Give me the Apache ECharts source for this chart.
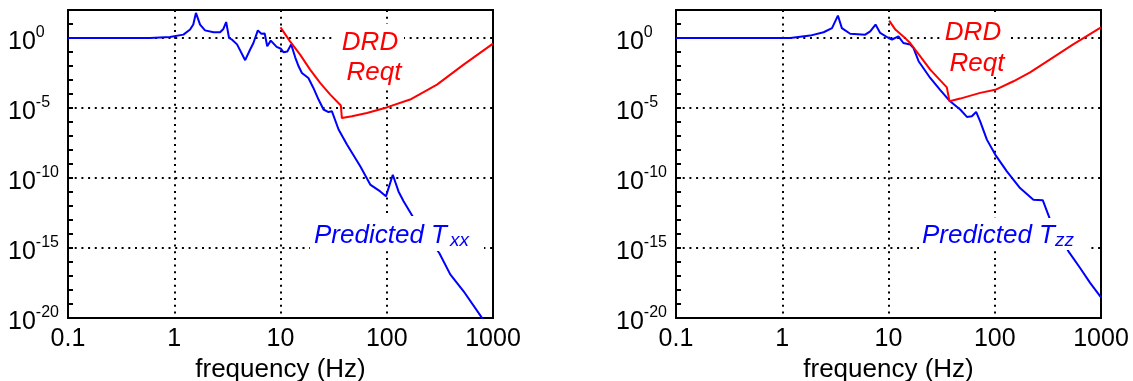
<!DOCTYPE html>
<html>
<head>
<meta charset="utf-8">
<title>Predicted transmissibility vs DRD requirement</title>
<script src="https://cdn.jsdelivr.net/npm/echarts@6/dist/echarts.min.js"></script>
<style>
  html, body { margin: 0; padding: 0; background: #fff; }
  #chart { width: 1133px; height: 381px; }
</style>
</head>
<body>
<div id="chart"></div>
<script>
// x tick labels, one per decade from 0.1 Hz to 1000 Hz
const freqTickLabels = ['0.1', '1', '10', '100', '1000'];
// decades of the magnitude axis that get a label (and a dotted grid line)
const magLabelExps = [0, -5, -10, -15, -20];

// left panel: predicted T_xx  [frequency Hz, magnitude]
const txxData = [
  [0.1, 1], [0.59, 1], [0.91, 1.17], [1.22, 1.74], [1.41, 4.0], [1.51, 9.1], [1.6, 62],
  [1.75, 9.0], [1.95, 3.5], [2.34, 2.6], [2.7, 2.6], [2.9, 4.4], [3.08, 13.8], [3.28, 1.0],
  [3.5, 0.76], [3.9, 0.35], [4.65, 0.026], [5.18, 0.15], [5.56, 0.44], [6.12, 3.5],
  [6.6, 2.0], [7.1, 2.1], [7.5, 0.26], [8.1, 0.65], [9.2, 0.23], [10.1, 0.17], [10.7, 0.095],
  [11.6, 0.11], [12.6, 0.35], [13.75, 0.042], [14.8, 0.0095], [15.9, 0.0032], [18.3, 1.4e-3],
  [20.4, 2.7e-4], [22.8, 4.0e-5], [25.4, 7.8e-6], [28.3, 5.1e-6], [30.5, 5.8e-6],
  [35.2, 2.9e-7], [42.2, 2.5e-8], [56.3, 6.9e-10], [69.9, 3.4e-11], [86.8, 1.1e-11],
  [98.3, 4.9e-12], [114, 1.7e-10], [129, 1.1e-11], [144, 2.2e-12], [179, 1.4e-13],
  [312, 4.4e-16], [396, 1.3e-17], [529, 8.1e-19], [776, 1.2e-20], [820, 5e-21]
];
// left panel: DRD requirement
const drdXData = [
  [10.0, 5.8], [12.3, 0.58], [15.3, 0.065], [19.0, 5.5e-3], [23.6, 6.2e-4], [29.4, 9.1e-5],
  [37.0, 1.5e-5], [37.8, 1.9e-6], [47.0, 2.6e-6], [65.1, 4.4e-6], [100, 1.1e-5],
  [166, 4.0e-5], [297, 4.7e-4], [529, 0.0126], [1000, 0.4]
];
// right panel: predicted T_zz
const tzzData = [
  [0.1, 1], [1.19, 1], [1.83, 1.48], [2.45, 2.57], [2.94, 5.1], [3.34, 40], [3.64, 5.1],
  [4.36, 2.0], [6.04, 1.74], [6.73, 3.0], [7.55, 9.1], [8.35, 2.3], [10.0, 1.0], [10.8, 0.78],
  [12.4, 1.3], [13.8, 0.44], [16.0, 0.34], [17.2, 0.19], [19.2, 0.022], [24.7, 1.4e-3],
  [30.6, 2.0e-4], [38.0, 3.0e-5], [47.3, 7.8e-6], [54.7, 2.3e-6], [60.9, 2.6e-6],
  [66.8, 5.2e-6], [72.9, 1.1e-6], [84.3, 5.5e-8], [101, 4.7e-9], [130, 3.0e-10],
  [173, 1.9e-11], [231, 2.8e-12], [283, 2.6e-12], [332, 1.07e-13], [494, 5.8e-16],
  [636, 3.7e-17], [790, 3.2e-18], [1000, 3.0e-19]
];
// right panel: DRD requirement
const drdZData = [
  [10.15, 17.4], [11.6, 4.0], [13.8, 1.3], [16.0, 0.44], [19.9, 0.049], [24.7, 5.5e-3],
  [35.4, 3.0e-4], [37.5, 3.0e-5], [47.3, 4.7e-5], [72.9, 1.2e-4], [101, 2.0e-4],
  [150, 8.1e-4], [215, 3.5e-3], [332, 0.030], [547, 0.355], [1000, 5.8]
];

const FONT = '"Liberation Sans", Arial, sans-serif';
const BLUE = '#0000ff';
const RED = '#ff0000';
const dotted = { color: '#000', width: 2, type: [2, 4.7] };

function expOf(v) {
  return Math.round(Math.log10(v));
}

function xAxisFor(gridIndex) {
  return {
    type: 'log',
    logBase: 10,
    gridIndex: gridIndex,
    min: 0.1,
    max: 1000,
    name: 'frequency (Hz)',
    nameLocation: 'middle',
    nameGap: 36,
    nameTextStyle: { fontFamily: FONT, fontSize: 26, color: '#000' },
    axisLine: { show: true, lineStyle: { color: '#000', width: 2 } },
    axisTick: { show: false },
    axisLabel: {
      fontFamily: FONT, fontSize: 25, color: '#000', margin: 9,
      formatter: v => freqTickLabels[expOf(v) + 1]
    },
    splitLine: { show: true, lineStyle: dotted }
  };
}

// magnitude axis the curves use: only a small inside tick every decade
function yTickAxisFor(gridIndex) {
  return {
    type: 'log',
    logBase: 10,
    gridIndex: gridIndex,
    position: 'left',
    min: 1e-20,
    max: 1e2,
    interval: 1,
    axisLine: { show: true, lineStyle: { color: '#000', width: 2 } },
    axisTick: { show: true, inside: true, length: 5, lineStyle: { color: '#000', width: 2 } },
    axisLabel: { show: false },
    splitLine: { show: false }
  };
}

// same scale, every 5 decades: labels 10^n and the dotted grid
function yLabelAxisFor(gridIndex) {
  return {
    type: 'log',
    logBase: 10,
    gridIndex: gridIndex,
    position: 'left',
    min: 1e-20,
    max: 1e2,
    interval: 5,
    axisLine: { show: false },
    axisTick: { show: false },
    axisLabel: {
      margin: 60,
      align: 'left',
      showMaxLabel: false,
      formatter: v => {
        const e = expOf(v);
        return magLabelExps.includes(e) ? '{b|10}{s|' + e + '}' : '';
      },
      rich: {
        b: { fontFamily: FONT, fontSize: 25, color: '#000', padding: [8, 0, 0, 0] },
        s: { fontFamily: FONT, fontSize: 16, color: '#000', padding: [0, 0, 10, 0] }
      }
    },
    splitLine: { show: true, lineStyle: dotted }
  };
}

function lineSeries(idx, data, color) {
  return {
    type: 'line',
    xAxisIndex: idx,
    yAxisIndex: idx,
    data: data,
    symbol: 'none',
    lineStyle: { color: color, width: 2 },
    z: 3
  };
}

function label(text, x, y, size, color, align) {
  return {
    type: 'text', x: x, y: y, z: 101,
    style: {
      text: text, fill: color,
      font: 'italic ' + size + 'px ' + FONT,
      align: align, textAlign: align,
      verticalAlign: 'middle', textVerticalAlign: 'middle'
    }
  };
}

function whiteBox(x, y, w, h) {
  return { type: 'rect', z: 100, shape: { x: x, y: y, width: w, height: h }, style: { fill: '#fff' } };
}

const chart = echarts.init(document.getElementById('chart'));
chart.setOption({
  animation: false,
  backgroundColor: '#fff',
  grid: [
    { left: 68, top: 10, width: 425, height: 308, outerBoundsMode: 'none',
      show: true, borderColor: '#000', borderWidth: 2 },
    { left: 676, top: 10, width: 425, height: 308, outerBoundsMode: 'none',
      show: true, borderColor: '#000', borderWidth: 2 }
  ],
  xAxis: [xAxisFor(0), xAxisFor(1)],
  yAxis: [yTickAxisFor(0), yTickAxisFor(1), yLabelAxisFor(0), yLabelAxisFor(1)],
  series: [
    lineSeries(0, txxData, BLUE),
    lineSeries(0, drdXData, RED),
    lineSeries(1, tzzData, BLUE),
    lineSeries(1, drdZData, RED)
  ],
  graphic: [
    // left panel annotations
    whiteBox(336, 24, 68, 64),
    label('DRD', 370, 43, 26, RED, 'center'),
    label('Reqt', 374, 72.6, 26, RED, 'center'),
    whiteBox(310, 216, 174, 35),
    label('Predicted T', 314, 236, 26, BLUE, 'left'),
    label('xx', 450, 241, 19, BLUE, 'left'),
    // right panel annotations
    whiteBox(940, 14, 68, 62),
    label('DRD', 973, 32.6, 26, RED, 'center'),
    label('Reqt', 977, 63.6, 26, RED, 'center'),
    whiteBox(919, 218, 169, 32),
    label('Predicted T', 922, 235.3, 26, BLUE, 'left'),
    label('zz', 1055, 240.6, 19, BLUE, 'left')
  ]
});
</script>
</body>
</html>
